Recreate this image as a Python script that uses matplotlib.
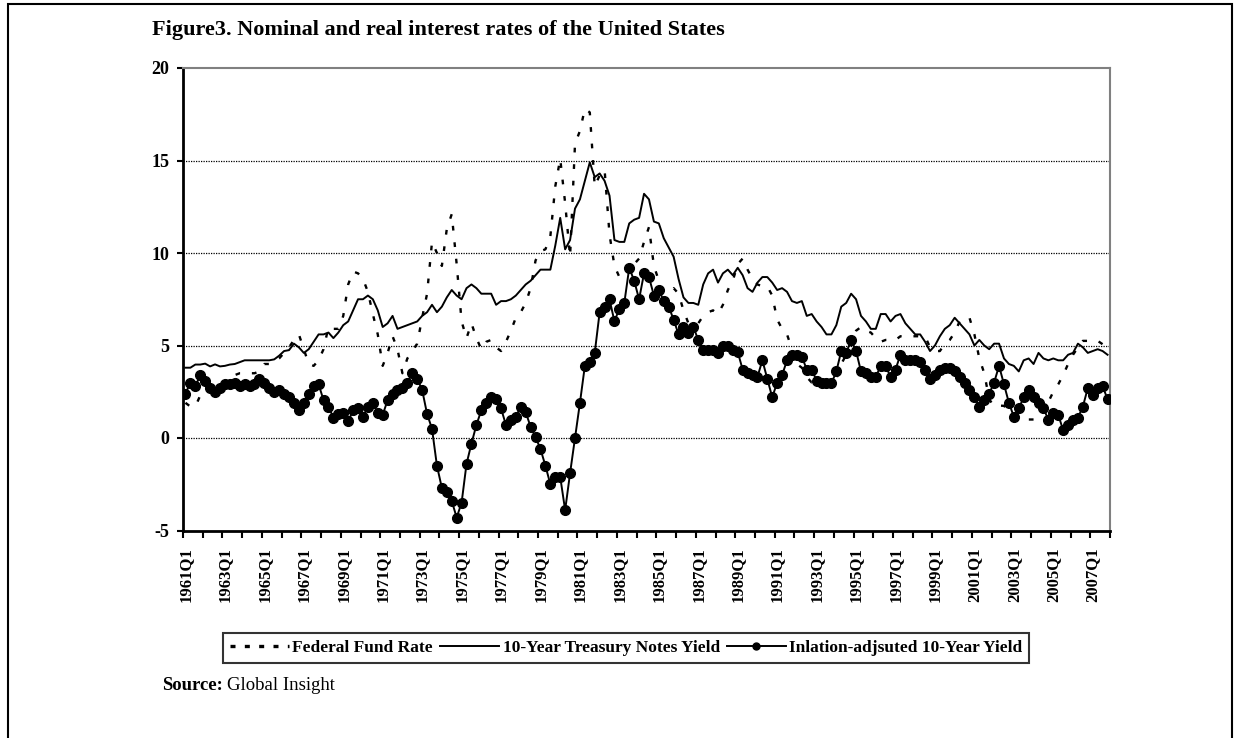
import matplotlib
matplotlib.use("Agg")
import matplotlib.pyplot as plt
from matplotlib.lines import Line2D
from matplotlib.patches import Rectangle
import numpy as np

plt.rcParams['font.family'] = ['Liberation Serif', 'DejaVu Serif']

# Quarterly categories 1961Q1 - 2007Q4
years = list(range(1961, 2008))
quarters = [f"{y}Q{q}" for y in years for q in range(1, 5)]

# Federal funds rate (%), one row per year
fed_funds = [
    1.9, 1.7, 1.7, 2.3,   2.5, 2.6, 2.8, 2.9,   2.9, 3.0, 3.4, 3.5,   3.5, 3.5, 3.5, 3.6,
    4.0, 4.0, 4.1, 4.3,   4.6, 4.9, 5.3, 5.6,   4.8, 4.0, 3.9, 4.2,   4.8, 6.0, 5.9, 5.9,
    6.6, 8.3, 9.0, 8.9,   8.6, 7.9, 6.7, 5.6,   3.9, 4.6, 5.5, 4.8,   3.5, 4.3, 4.7, 5.1,
    6.5, 7.8, 10.6, 10.0, 9.3, 11.3, 12.1, 9.4, 6.3, 5.4, 6.2, 5.4,   4.8, 5.2, 5.3, 4.9,
    4.7, 5.2, 5.8, 6.5,   6.8, 7.3, 8.1, 9.6,   10.1, 10.2, 10.9, 13.6, 15.1, 12.7, 9.8, 15.9,
    16.6, 17.8, 17.6, 13.6, 14.2, 14.5, 11.0, 9.3, 8.7, 8.8, 9.5, 9.4, 9.7, 10.6, 11.4, 9.3,
    8.5, 7.9, 7.9, 8.1,   7.8, 6.9, 6.2, 6.3,   6.2, 6.6, 6.8, 6.9,   6.7, 7.2, 8.0, 8.5,
    9.4, 9.7, 9.1, 8.6,   8.3, 8.2, 8.2, 7.7,   6.4, 5.9, 5.6, 4.8,   4.0, 3.8, 3.3, 3.0,
    3.0, 3.0, 3.1, 3.0,   3.2, 4.0, 4.5, 5.2,   5.8, 6.0, 5.8, 5.7,   5.4, 5.2, 5.3, 5.3,
    5.3, 5.5, 5.5, 5.5,   5.5, 5.5, 5.5, 4.9,   4.7, 4.7, 5.1, 5.3,   5.7, 6.3, 6.5, 6.5,
    5.6, 4.3, 3.5, 2.1,   1.7, 1.75, 1.74, 1.44, 1.25, 1.25, 1.02, 1.0, 1.0, 1.03, 1.43, 1.95,
    2.5, 2.9, 3.4, 4.0,   4.5, 4.9, 5.25, 5.25, 5.26, 5.25, 5.07, 4.5,
]

# 10-year Treasury notes yield (%)
treasury_10y = [
    3.8, 3.8, 3.97, 3.97, 4.02, 3.87, 3.98, 3.87, 3.9, 3.97, 4.0, 4.1,  4.2, 4.2, 4.2, 4.2,
    4.2, 4.2, 4.25, 4.45, 4.7, 4.75, 5.1, 4.9,   4.6, 4.8, 5.2, 5.6,   5.6, 5.7, 5.4, 5.7,
    6.1, 6.3, 6.9, 7.5,   7.5, 7.7, 7.5, 6.9,   6.0, 6.2, 6.6, 5.9,   6.0, 6.1, 6.2, 6.3,
    6.6, 6.8, 7.2, 6.8,   7.1, 7.6, 8.0, 7.7,   7.5, 8.1, 8.3, 8.1,   7.8, 7.8, 7.8, 7.2,
    7.4, 7.4, 7.5, 7.7,   8.0, 8.3, 8.5, 8.8,   9.1, 9.1, 9.1, 10.4,  11.9, 10.2, 10.7, 12.4,
    12.9, 13.9, 14.9, 14.1, 14.3, 13.9, 13.1, 10.7, 10.6, 10.6, 11.6, 11.8, 11.9, 13.2, 12.9, 11.7,
    11.6, 10.8, 10.3, 9.8, 8.6, 7.6, 7.3, 7.3,   7.2, 8.3, 8.9, 9.1,   8.4, 8.9, 9.1, 8.8,
    9.2, 8.8, 8.1, 7.9,   8.4, 8.7, 8.7, 8.4,   8.0, 8.1, 7.9, 7.4,   7.3, 7.4, 6.6, 6.7,
    6.3, 6.0, 5.6, 5.6,   6.1, 7.1, 7.3, 7.8,   7.5, 6.6, 6.3, 5.9,   5.9, 6.7, 6.7, 6.3,
    6.6, 6.7, 6.2, 5.9,   5.6, 5.6, 5.2, 4.7,   5.0, 5.5, 5.9, 6.1,   6.5, 6.2, 5.9, 5.6,
    5.0, 5.3, 5.0, 4.8,   5.1, 5.1, 4.3, 4.0,   3.9, 3.6, 4.2, 4.3,   4.0, 4.6, 4.3, 4.2,
    4.3, 4.2, 4.2, 4.5,   4.6, 5.1, 4.9, 4.6,   4.7, 4.8, 4.7, 4.5,
]

# Inflation-adjusted 10-year yield (%)
real_10y = [
    2.4, 3.0, 2.8, 3.4,   3.1, 2.7, 2.5, 2.7,   2.9, 2.9, 3.0, 2.8,   2.9, 2.8, 2.9, 3.2,
    3.0, 2.7, 2.5, 2.6,   2.4, 2.2, 1.9, 1.5,   1.9, 2.4, 2.8, 2.9,   2.05, 1.7, 1.1, 1.3,
    1.35, 0.9, 1.5, 1.6,  1.15, 1.7, 1.9, 1.35, 1.25, 2.05, 2.4, 2.6, 2.7, 3.0, 3.5, 3.2,
    2.6, 1.3, 0.5, -1.5,  -2.7, -2.9, -3.4, -4.3, -3.5, -1.4, -0.3, 0.7, 1.5, 1.9, 2.2, 2.1,
    1.6, 0.7, 1.0, 1.15,  1.7, 1.4, 0.6, 0.05,  -0.6, -1.5, -2.5, -2.1, -2.1, -3.9, -1.9, 0.0,
    1.9, 3.9, 4.1, 4.6,   6.8, 7.1, 7.5, 6.3,   7.0, 7.3, 9.2, 8.5,   7.5, 8.9, 8.7, 7.7,
    8.0, 7.4, 7.1, 6.4,   5.6, 6.0, 5.7, 6.0,   5.3, 4.75, 4.75, 4.75, 4.6, 5.0, 5.0, 4.75,
    4.65, 3.7, 3.5, 3.4,  3.3, 4.2, 3.2, 2.2,   3.0, 3.4, 4.2, 4.5,   4.5, 4.4, 3.7, 3.7,
    3.1, 2.95, 2.95, 2.95, 3.6, 4.7, 4.6, 5.3,  4.7, 3.6, 3.5, 3.3,   3.3, 3.9, 3.9, 3.3,
    3.7, 4.5, 4.2, 4.2,   4.2, 4.1, 3.7, 3.2,   3.4, 3.7, 3.8, 3.8,   3.6, 3.3, 3.0, 2.6,
    2.2, 1.7, 2.05, 2.4,  3.0, 3.9, 2.9, 1.9,   1.15, 1.6, 2.2, 2.6,  2.2, 1.9, 1.6, 1.0,
    1.35, 1.25, 0.43, 0.7, 1.0, 1.1, 1.7, 2.7,  2.3, 2.7, 2.8, 2.1,
]

labels = ["Federal Fund Rate", "10-Year Treasury Notes Yield",
          "Inlation-adjsuted 10-Year Yield"]

W, H = 1239, 738
fig = plt.figure(figsize=(W / 100, H / 100), dpi=100)
ax = fig.add_axes([183 / W, 1 - 530.5 / H, 927 / W, 462.5 / H])

x = np.arange(len(quarters))

# dotted gridlines
for v in [0, 5, 10, 15]:
    ax.axhline(v, color='black', lw=0.9, ls=(0, (1, 1)), zorder=1)

ax.plot(x, fed_funds, color='black', lw=1.7, ls=(0, (2, 5)), zorder=3)
ax.plot(x, treasury_10y, color='black', lw=1.4, zorder=3)
ax.plot(x, real_10y, color='black', lw=1.4, marker='o', ms=7, zorder=4)

ax.set_xlim(-0.5, len(quarters) - 0.5)
ax.set_ylim(-5, 20)

ax.set_yticks(range(-5, 21, 5))
ax.set_yticklabels([str(v) for v in range(-5, 21, 5)], fontweight='bold', fontsize=13)
ax.tick_params(axis='y', direction='out', length=4, width=1.5, pad=6)

ax.set_xticks(x[::8])
ax.set_xticklabels(quarters[::8], rotation=90, fontweight='bold', fontsize=12)
ax.set_xticks(np.arange(-0.5, len(quarters), 4), minor=True)
ax.tick_params(axis='x', which='major', length=0, pad=12)
ax.tick_params(axis='x', which='minor', direction='out', length=5, width=1.5)

for s in ['left', 'bottom']:
    ax.spines[s].set_color('black')
    ax.spines[s].set_linewidth(2)
for s in ['top', 'right']:
    ax.spines[s].set_color('#808080')
    ax.spines[s].set_linewidth(1.5)

fig.text(152 / W, 1 - 30 / H, "Figure3. Nominal and real interest rates of the United States",
         fontsize=16, fontweight='bold', ha='left', va='center')

handles = [
    Line2D([], [], color='black', lw=2.4, ls=(0, (1.5, 2.8))),
    Line2D([], [], color='black', lw=1.4),
    Line2D([], [], color='black', lw=1.4, marker='o', ms=5),
]
leg = fig.legend(handles, labels, loc='upper left', bbox_to_anchor=(223 / W, 1 - 633 / H),
                 ncol=3, frameon=True, fancybox=False, edgecolor='black',
                 prop={'weight': 'bold', 'size': 12.5}, handlelength=3.4,
                 handletextpad=0.2, columnspacing=0.4, borderpad=0.4,
                 borderaxespad=0)
leg.get_frame().set_linewidth(1.5)

src = fig.text(162 / W, 1 - 686 / H, "Source:", fontsize=13.5, fontweight='bold',
               ha='left', va='center')
fig.canvas.draw()
bb = src.get_window_extent()
fig.text((bb.x1 + 4) / W, 1 - 686 / H, "Global Insight", fontsize=13.5,
         ha='left', va='center')

# outer frame of the figure
fig.add_artist(Rectangle((8 / W, -0.05), (1232 - 8) / W, 1.05 - 4 / H,
                         transform=fig.transFigure, fill=False,
                         edgecolor='black', lw=1.5))

fig.savefig("out.png", dpi=100)
